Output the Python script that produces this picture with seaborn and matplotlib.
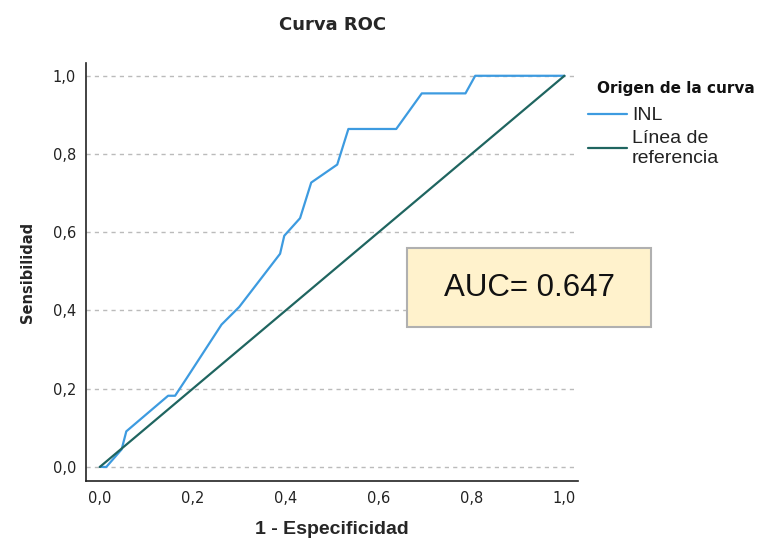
import pandas as pd
import matplotlib
matplotlib.use("Agg")
import matplotlib.pyplot as plt
import seaborn as sns
from matplotlib.patches import Rectangle

# ROC points
fpr = [0.0, 0.014, 0.047, 0.057, 0.147, 0.162, 0.187, 0.262, 0.300, 0.388,
       0.397, 0.431, 0.455, 0.511, 0.535, 0.638, 0.693, 0.787, 0.808, 1.0]
tpr = [0.0, 0.0, 0.045, 0.091, 0.182, 0.182, 0.227, 0.364, 0.409, 0.545,
       0.591, 0.636, 0.727, 0.773, 0.864, 0.864, 0.955, 0.955, 1.0, 1.0]
ref_x = [0.0, 1.0]
ref_y = [0.0, 1.0]
series_names = ["INL", "Línea de\nreferencia"]
auc_text = "AUC= 0.647"
ticks = [0.0, 0.2, 0.4, 0.6, 0.8, 1.0]

df = pd.concat([
    pd.DataFrame({"x": fpr, "y": tpr, "Origen": series_names[0]}),
    pd.DataFrame({"x": ref_x, "y": ref_y, "Origen": series_names[1]}),
], ignore_index=True)

sns.set_style("white")
plt.rcParams['font.family'] = ['Liberation Sans', 'DejaVu Sans']
wide_bold = dict(family="DejaVu Sans", fontweight="bold")

W, H = 760, 542
fig = plt.figure(figsize=(7.6, 5.42), dpi=100)
ax = fig.add_axes([0.113, 0.1125, 0.648, 0.7715])

palette = {series_names[0]: "#3d9be0", series_names[1]: "#1f6560"}
sns.lineplot(data=df, x="x", y="y", hue="Origen", palette=palette,
             sort=False, estimator=None, linewidth=1.6, ax=ax)

ax.set_xlim(-0.03, 1.03)
ax.set_ylim(-0.036, 1.033)
ax.set_xticks(ticks)
ax.set_yticks(ticks)
labels = [f"{t:.1f}".replace(".", ",") for t in ticks]
ax.set_xticklabels(labels, family="DejaVu Sans")
ax.set_yticklabels(labels, family="DejaVu Sans")
ax.tick_params(length=0, labelsize=10.5, pad=7, colors="#222222")

for t in ticks:
    ax.axhline(t, color="#bbbbbb", linestyle=(0, (3, 3)), linewidth=1, zorder=0)

for s in ["top", "right"]:
    ax.spines[s].set_visible(False)
for s in ["left", "bottom"]:
    ax.spines[s].set_color("#222222")
    ax.spines[s].set_linewidth(1.2)

ax.set_title("Curva ROC", fontsize=13, pad=24, **wide_bold)
ax.set_xlabel("1 - Especificidad", fontsize=14, fontweight="bold", labelpad=11)
ax.set_ylabel("Sensibilidad", fontsize=10.5, labelpad=13, **wide_bold)

handles, lbls = ax.get_legend_handles_labels()
leg = ax.legend(handles, lbls, loc="upper left",
                bbox_to_anchor=(1.02, 0.895), frameon=False, fontsize=14,
                handlelength=2.0, handletextpad=0.25, labelspacing=0.3,
                borderaxespad=0, borderpad=0)
for txt in leg.get_texts():
    txt.set_linespacing(1.2)
    txt.set_color("#222222")
fig.text(597 / W, 1 - 88 / H, "Origen de la curva", fontsize=11,
         ha="left", va="center", color="#111111", **wide_bold)

# AUC box
x0, x1, y0, y1 = 407, 651, 248, 327
fig.patches.append(Rectangle((x0 / W, 1 - y1 / H), (x1 - x0) / W, (y1 - y0) / H,
                             transform=fig.transFigure, facecolor="#fff2cc",
                             edgecolor="#b0b0b0", linewidth=1.5, zorder=5))
fig.text((x0 + x1) / 2 / W, 1 - (y0 + y1) / 2 / H, auc_text, fontsize=22.5,
         ha="center", va="center", color="#111111", zorder=6)

fig.savefig("out.png", dpi=100)
